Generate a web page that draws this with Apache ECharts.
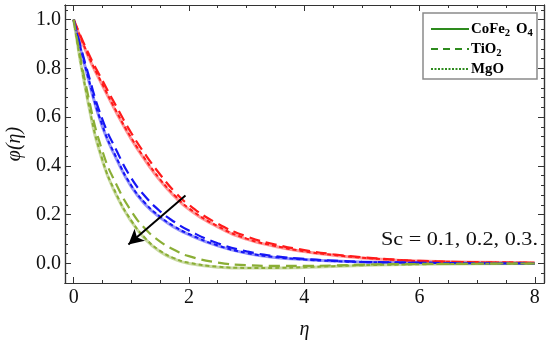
<!DOCTYPE html>
<html>
<head>
<meta charset="utf-8">
<script src="https://cdn.jsdelivr.net/npm/echarts@6/dist/echarts.min.js"></script>
<style>html,body{margin:0;padding:0;background:#fff}#c{width:550px;height:345px}</style>
</head>
<body>
<div id="c"></div>
<script>
var eta = [0, 0.25, 0.5, 0.75, 1, 1.25, 1.5, 1.75, 2, 2.5, 3, 3.5, 4, 4.5, 5, 5.5, 6, 7, 8];

// Sc = 0.1 (red)
var redSolid  = [1, 0.85, 0.73, 0.615, 0.51, 0.42, 0.34, 0.275, 0.222, 0.150, 0.100, 0.070, 0.049, 0.034, 0.023, 0.015, 0.010, 0.005, 0.003];
var redDashed = [1, 0.865, 0.75, 0.64, 0.535, 0.445, 0.365, 0.295, 0.240, 0.163, 0.111, 0.078, 0.055, 0.038, 0.026, 0.017, 0.011, 0.005, 0.003];
var redDotted = [1, 0.855, 0.735, 0.62, 0.515, 0.425, 0.345, 0.28, 0.226, 0.153, 0.102, 0.072, 0.050, 0.035, 0.024, 0.016, 0.010, 0.005, 0.003];

// Sc = 0.2 (blue)
var blueSolid  = [1, 0.76, 0.56, 0.425, 0.315, 0.24, 0.188, 0.148, 0.118, 0.072, 0.042, 0.025, 0.016, 0.010, 0.006, 0.004, 0.003, 0.001, 0.0];
var blueDashed = [1, 0.78, 0.59, 0.46, 0.35, 0.273, 0.214, 0.17, 0.135, 0.083, 0.050, 0.030, 0.019, 0.012, 0.007, 0.005, 0.003, 0.001, 0.0];
var blueDotted = [1, 0.765, 0.565, 0.43, 0.32, 0.245, 0.192, 0.151, 0.121, 0.074, 0.043, 0.026, 0.016, 0.010, 0.006, 0.004, 0.003, 0.001, 0.0];

// Sc = 0.3 (green)
var greenSolid  = [1, 0.66, 0.42, 0.275, 0.172, 0.098, 0.048, 0.018, 0.0, -0.015, -0.019, -0.019, -0.016, -0.012, -0.008, -0.005, -0.003, -0.001, 0.0];
var greenDashed = [1, 0.69, 0.46, 0.32, 0.215, 0.14, 0.09, 0.055, 0.030, 0.004, -0.007, -0.010, -0.010, -0.008, -0.005, -0.003, -0.002, -0.001, 0.0];
var greenDotted = [1, 0.665, 0.425, 0.28, 0.176, 0.102, 0.052, 0.021, 0.003, -0.013, -0.018, -0.018, -0.015, -0.011, -0.007, -0.005, -0.003, -0.001, 0.0];

var xTicks = [0, 2, 4, 6, 8];
var xMinorTicks = [0.5, 1, 1.5, 2.5, 3, 3.5, 4.5, 5, 5.5, 6.5, 7, 7.5];
var yTicks = [0, 0.2, 0.4, 0.6, 0.8, 1.0];
var yMinorTicks = [-0.04, 0.04, 0.08, 0.12, 0.16, 0.24, 0.28, 0.32, 0.36, 0.44, 0.48, 0.52, 0.56, 0.64, 0.68, 0.72, 0.76, 0.84, 0.88, 0.92, 0.96, 1.04];

var arrowFrom = [1.94, 0.279];
var arrowTo = [0.95, 0.078];

var annotation = 'Sc = 0.1, 0.2, 0.3.';

var RED = '#ff1a1a', BLUE = '#1616f5', GREEN = '#8aae35';

function pairs(ys) { return eta.map(function (x, i) { return [x, ys[i]]; }); }

function mk(ys, color, style) {
  var ls = { color: color };
  if (style === 'solid') { ls.width = 3; ls.opacity = 0.45; ls.type = 'solid'; }
  else if (style === 'dashed') { ls.width = 2.2; ls.type = [11, 6]; }
  else { ls.width = 2; ls.type = [4, 3]; }
  return {
    type: 'line', data: pairs(ys), showSymbol: false, symbol: 'none',
    smooth: 0.5, lineStyle: ls, silent: true, z: style === 'solid' ? 2 : 3
  };
}

var serif = '"Liberation Serif", "Times New Roman", serif';
var XMIN = -0.15, XMAX = 8.16, YMIN = -0.08, YMAX = 1.06;

function xAxisDef(pos, vals, len, labels) {
  return {
    type: 'value', position: pos, min: XMIN, max: XMAX,
    axisLine: { show: true, onZero: false, lineStyle: { color: '#333', width: 1.2 } },
    axisTick: { show: true, inside: true, length: len, customValues: vals, lineStyle: { color: '#333', width: 1 } },
    axisLabel: labels ? { show: true, customValues: vals, margin: 5, color: '#111', fontFamily: serif, fontSize: 20 } : { show: false },
    splitLine: { show: false }
  };
}
function yAxisDef(pos, vals, len, labels) {
  return {
    type: 'value', position: pos, min: YMIN, max: YMAX,
    axisLine: { show: true, onZero: false, lineStyle: { color: '#333', width: 1.2 } },
    axisTick: { show: true, inside: true, length: len, customValues: vals, lineStyle: { color: '#333', width: 1 } },
    axisLabel: labels ? { show: true, customValues: vals, margin: 4, color: '#111', fontFamily: serif, fontSize: 20,
      formatter: function (v) { return v.toFixed(1); } } : { show: false },
    splitLine: { show: false }
  };
}

var xAxes = [
  xAxisDef('bottom', xTicks, 6, true),
  xAxisDef('bottom', xMinorTicks, 3, false),
  xAxisDef('top', xTicks, 6, false),
  xAxisDef('top', xMinorTicks, 3, false)
];
xAxes[0].name = 'η';
xAxes[0].nameLocation = 'middle';
xAxes[0].nameGap = 37;
xAxes[0].nameTextStyle = { fontFamily: serif, fontStyle: 'italic', fontSize: 20, color: '#111' };

var yAxes = [
  yAxisDef('left', yTicks, 6, true),
  yAxisDef('left', yMinorTicks, 3, false),
  yAxisDef('right', yTicks, 6, false),
  yAxisDef('right', yMinorTicks, 3, false)
];
yAxes[0].name = 'φ(η)';
yAxes[0].nameLocation = 'middle';
yAxes[0].nameGap = 40;
yAxes[0].nameRotate = 90;
yAxes[0].nameTextStyle = { fontFamily: serif, fontStyle: 'italic', fontSize: 20, color: '#111' };

var series = [
  mk(redSolid, RED, 'solid'), mk(redDashed, RED, 'dashed'), mk(redDotted, RED, 'dotted'),
  mk(blueSolid, BLUE, 'solid'), mk(blueDashed, BLUE, 'dashed'), mk(blueDotted, BLUE, 'dotted'),
  mk(greenSolid, GREEN, 'solid'), mk(greenDashed, GREEN, 'dashed'), mk(greenDotted, GREEN, 'dotted'),
  {
    type: 'line', data: [], symbol: 'none', silent: true,
    markLine: {
      silent: true, symbol: ['none', 'arrow'], symbolSize: [12, 15],
      lineStyle: { color: '#000', width: 2, type: 'solid' },
      label: { show: false },
      data: [[{ coord: arrowFrom }, { coord: arrowTo }]]
    }
  }
];

var legendColor = '#2323b8';
var lx0 = 431, lx1 = 469, tx = 471;
var rows = [29, 49, 69];
var richStyle = {
  b: { fontFamily: serif, fontWeight: 'bold', fontSize: 14, color: legendColor },
  s: { fontFamily: serif, fontWeight: 'bold', fontSize: 10, color: legendColor, verticalAlign: 'bottom', padding: [9, 2, 0, 0] }
};
var graphic = [
  { type: 'rect', shape: { x: 423, y: 13, width: 114, height: 66 }, style: { fill: '#fff', stroke: '#8a8a8a', lineWidth: 1.5 }, z: 10 },
  { type: 'line', shape: { x1: lx0, y1: rows[0], x2: lx1, y2: rows[0] }, style: { stroke: '#2e8b1e', lineWidth: 2.2 }, z: 11 },
  { type: 'line', shape: { x1: lx0, y1: rows[1], x2: lx1, y2: rows[1] }, style: { stroke: '#2e8b1e', lineWidth: 2.2, lineDash: [7, 5] }, z: 11 },
  { type: 'line', shape: { x1: lx0, y1: rows[2], x2: lx1, y2: rows[2] }, style: { stroke: '#2e8b1e', lineWidth: 2, lineDash: [2, 1.5] }, z: 11 },
  { type: 'text', x: tx, y: rows[0], scaleX: 1.06, z: 11, style: { text: '{b|CoFe}{s|2}{b| O}{s|4}', rich: richStyle, verticalAlign: 'middle', align: 'left' } },
  { type: 'text', x: tx, y: rows[1], scaleX: 1.06, z: 11, style: { text: '{b|TiO}{s|2}', rich: richStyle, verticalAlign: 'middle', align: 'left' } },
  { type: 'text', x: tx, y: rows[2], scaleX: 1.06, z: 11, style: { text: '{b|MgO}', rich: richStyle, verticalAlign: 'middle', align: 'left' } },
  { type: 'text', x: 538, y: 240, scaleX: 1.17, z: 11, style: { text: annotation, fontFamily: serif, fontSize: 19, fill: '#111', align: 'right', verticalAlign: 'middle' } }
];

var chart = echarts.init(document.getElementById('c'), null, { renderer: 'canvas' });
chart.setOption({
  animation: false,
  backgroundColor: '#fff',
  grid: { left: 65, right: 6, top: 5, bottom: 62, containLabel: false, outerBoundsMode: 'none' },
  xAxis: xAxes,
  yAxis: yAxes,
  series: series,
  graphic: graphic
});
</script>
</body>
</html>
